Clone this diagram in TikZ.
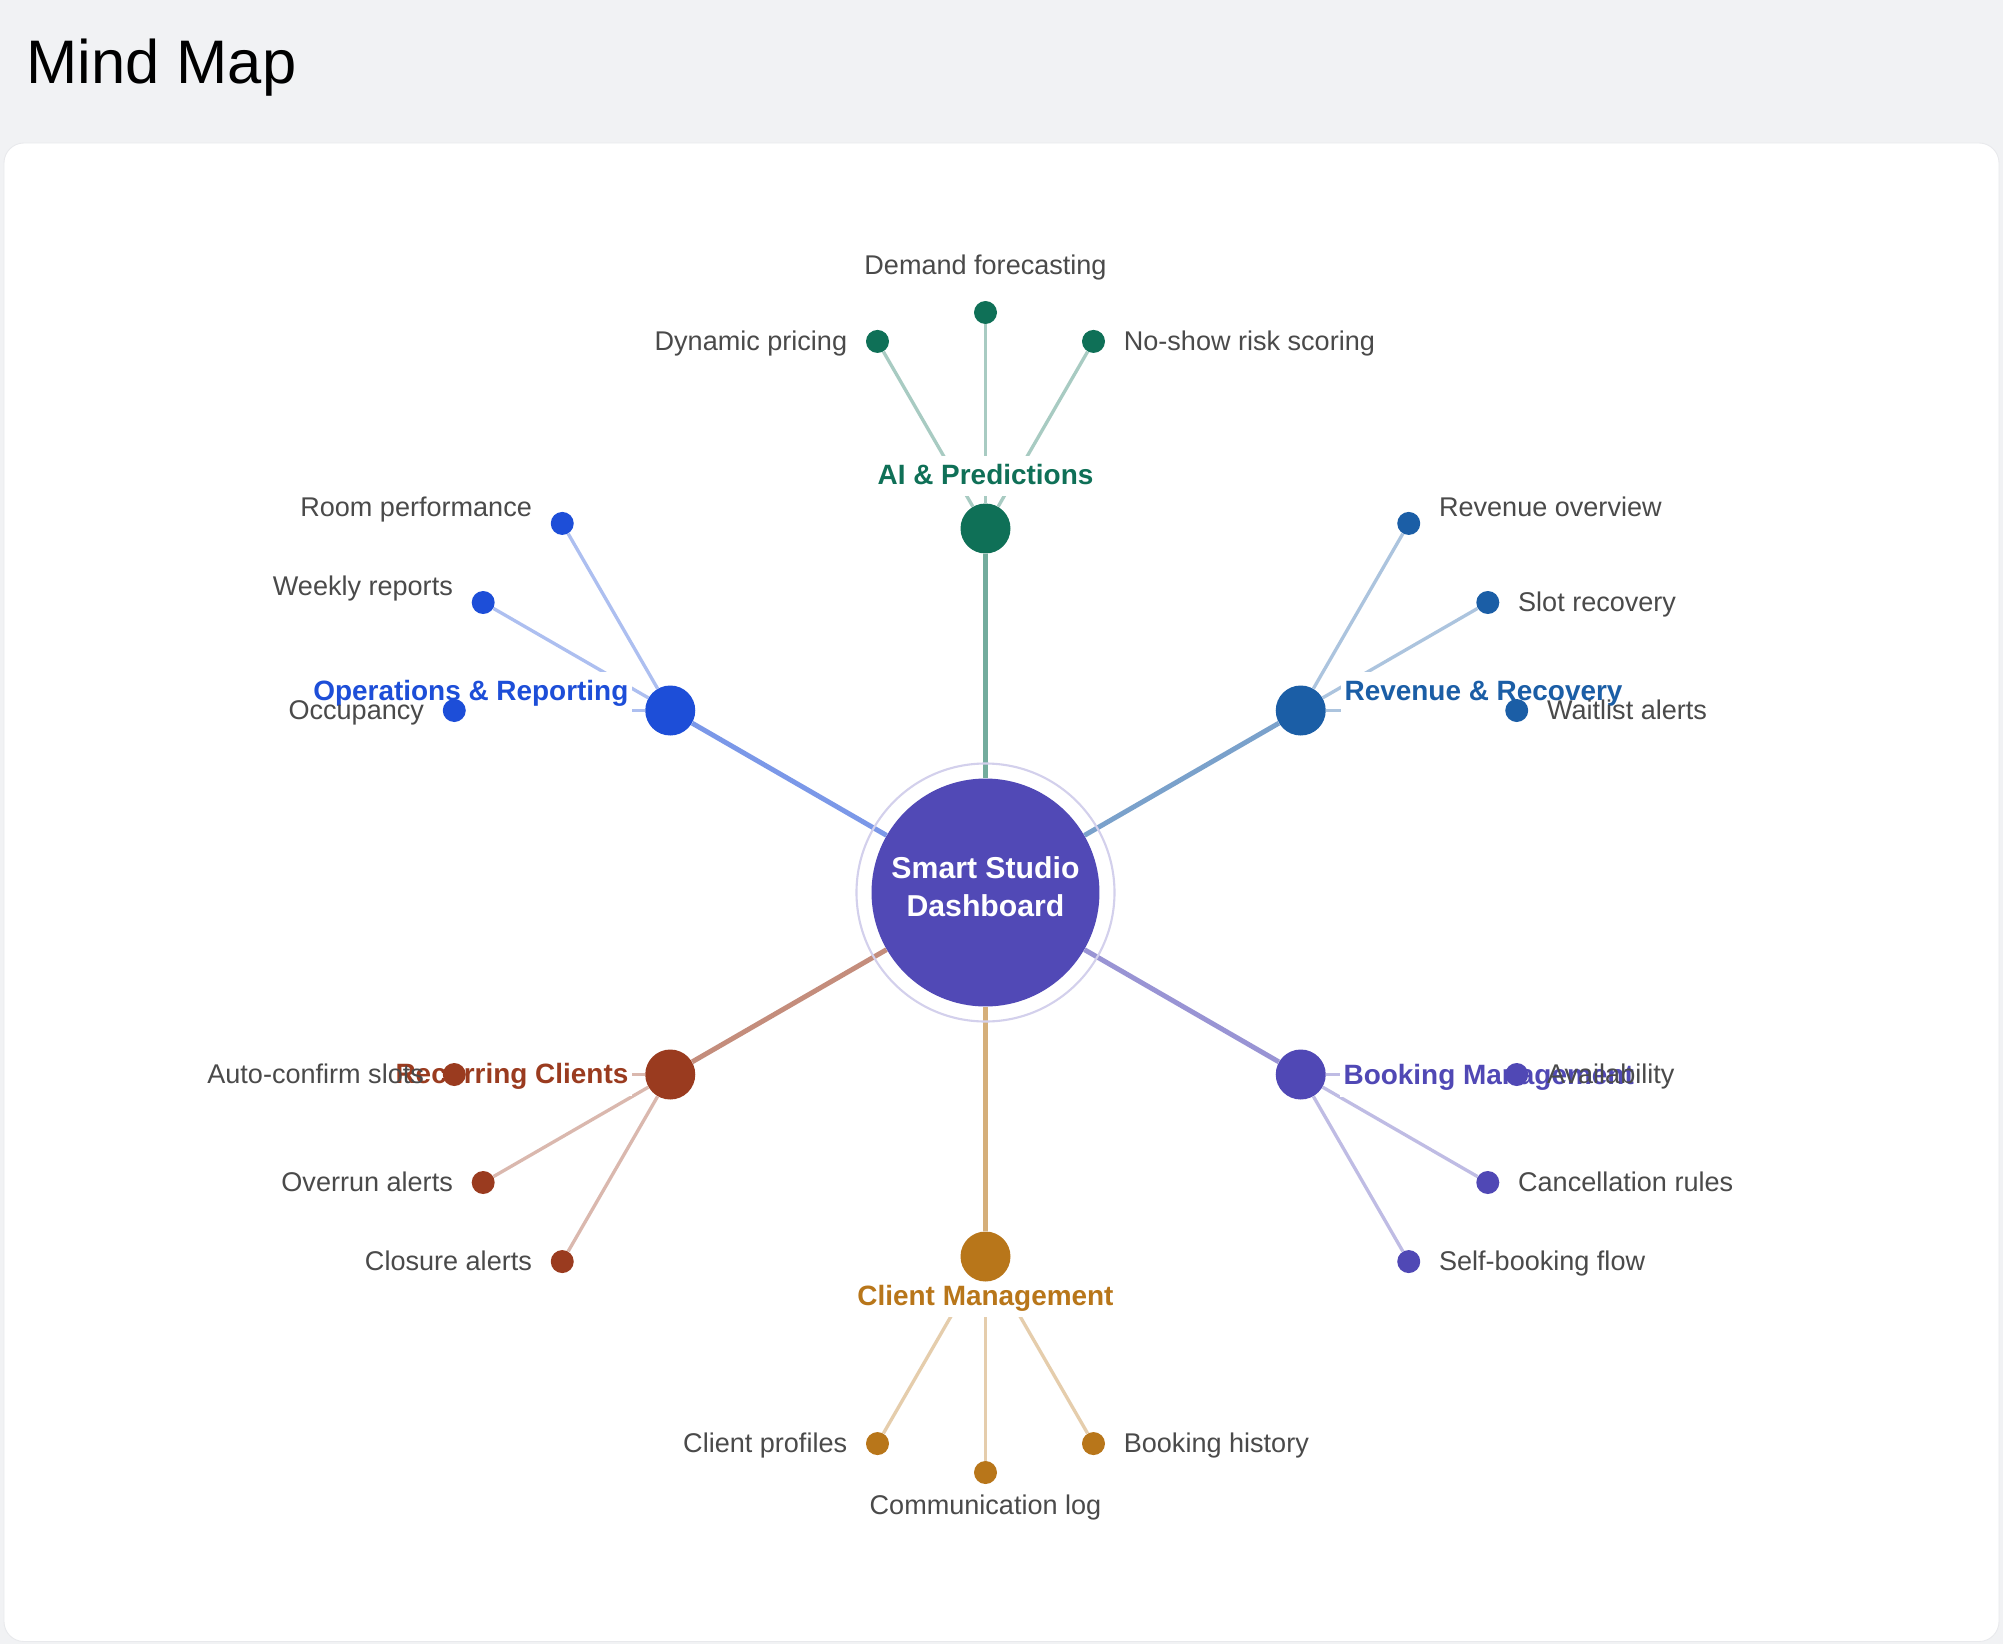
\documentclass[tikz,border=0pt]{standalone}
\usepackage{fontspec}
\setmainfont{Liberation Sans}
\usetikzlibrary{calc}
\definecolor{aiC}{HTML}{0F7057}
\definecolor{opsC}{HTML}{1D4ED8}
\definecolor{revC}{HTML}{1B5EA6}
\definecolor{bookC}{HTML}{5048B5}
\definecolor{cliC}{HTML}{B8761A}
\definecolor{recC}{HTML}{9A3B1F}
\definecolor{hubC}{HTML}{5149B6}
\definecolor{ringC}{HTML}{D3D0EC}
\definecolor{txtC}{HTML}{4A4A4A}
\definecolor{bgC}{HTML}{F1F2F4}
\definecolor{cardC}{HTML}{E8E9EC}
\pgfdeclarelayer{card}
\pgfdeclarelayer{links}
\pgfdeclarelayer{labels}
\pgfsetlayers{card,links,labels,main}

\begin{document}
\begin{tikzpicture}[x=0.02cm, y=0.02cm,
  hub/.style={circle, fill=hubC, minimum size=4.56cm, inner sep=0},
  branch/.style={circle, minimum size=1cm, inner sep=0},
  leaf/.style={circle, minimum size=0.46cm, inner sep=0},
  trunk/.style={line width=2.8pt, draw opacity=0.58},
  twig/.style={line width=1.9pt, draw opacity=0.36},
  blabel/.style={fill=white, inner sep=2pt, text height=14pt, text depth=5pt, font=\bfseries\fontsize{15.9}{19}\selectfont},
  llabel/.style={inner sep=0, text=txtC, font=\fontsize{15.4}{18}\selectfont}]
\useasboundingbox (-985.5,892.5) rectangle (1017.5,-751.5);
\begin{pgfonlayer}{card}
\fill[bgC] (-985.5,892.5) rectangle (1017.5,-751.5);
\filldraw[fill=white, draw=cardC, line width=0.5pt, rounded corners=0.4cm] (-981.5,749.5) rectangle (1013.5,-749);
\end{pgfonlayer}
\node[anchor=base west, inner sep=0, font=\fontsize{35}{40}\selectfont] (title) at (-959.5,808.5) {Mind Map};

% centre
\node[hub] (hub) at (0,0) {};
\node[align=center, text=white, font=\bfseries\fontsize{17.2}{21.7}\selectfont] (hub-t) at (0,6) {Smart Studio\\Dashboard};
\draw[ringC, line width=1.2pt] (hub.center) circle[radius=129];

% main branches
\foreach \nm/\ang/\col in {ai/90/aiC, rev/30/revC, book/-30/bookC, cli/-90/cliC, rec/-150/recC, ops/150/opsC}{
  \node[branch, fill=\col] (\nm) at (\ang:364) {};
  \begin{pgfonlayer}{links}
  \draw[trunk, \col] (hub) -- (\nm);
  \end{pgfonlayer}
}
\begin{pgfonlayer}{labels}
\node[blabel, text=aiC, anchor=base] (ai-t) at ($(ai)+(0,44.5)$) {AI \& Predictions};
\node[blabel, text=opsC, anchor=base east] (ops-t) at ($(ops)+(-38,10)$) {Operations \& Reporting};
\node[blabel, text=revC, anchor=base west] (rev-t) at ($(rev)+(40,10)$) {Revenue \& Recovery};
\node[blabel, text=bookC, anchor=base west] (book-t) at ($(book)+(39,-10)$) {Booking Management};
\node[blabel, text=recC, anchor=base east] (rec-t) at ($(rec)+(-38,-9)$) {Recurring Clients};
\node[blabel, text=cliC, anchor=base] (cli-t) at ($(cli)+(0,-48.5)$) {Client Management};
\end{pgfonlayer}

% leaves
\foreach \br/\nm/\ang/\col in {ai/dp/120/aiC, ai/df/90/aiC, ai/ns/60/aiC, ops/rp/120/opsC, ops/wr/150/opsC, ops/oc/180/opsC,
  rev/ro/60/revC, rev/sr/30/revC, rev/wa/0/revC, book/av/0/bookC, book/cr/-30/bookC, book/sb/-60/bookC,
  cli/cp/-120/cliC, cli/cl/-90/cliC, cli/bh/-60/cliC, rec/ac/180/recC, rec/oa/-150/recC, rec/ca/-120/recC}{
  \node[leaf, fill=\col] (\nm) at ($(\br)+(\ang:216)$) {};
  \begin{pgfonlayer}{links}
  \draw[twig, \col] (\br) -- (\nm);
  \end{pgfonlayer}
}
\foreach \nm/\anc/\dx/\dy/\txt in {dp/base east/-30/-9/Dynamic pricing, df/base/0/38/Demand forecasting, ns/base west/30/-9/No-show risk scoring,
  rp/base east/-30/7/Room performance, wr/base east/-30/7/Weekly reports, oc/base east/-30/-9/Occupancy,
  ro/base west/30/7/Revenue overview, sr/base west/30/-9/Slot recovery, wa/base west/30/-9/Waitlist alerts,
  av/base west/30/-9/Availability, cr/base west/30/-9/Cancellation rules, sb/base west/30/-9/Self-booking flow,
  cp/base east/-30/-9/Client profiles, cl/base/0/-42/Communication log, bh/base west/30/-9/Booking history,
  ac/base east/-30/-9/Auto-confirm slots, oa/base east/-30/-9/Overrun alerts, ca/base east/-30/-9/Closure alerts}{
  \node[llabel, anchor=\anc] (\nm-t) at ($(\nm)+(\dx,\dy)$) {\txt};
}
\end{tikzpicture}
\end{document}
